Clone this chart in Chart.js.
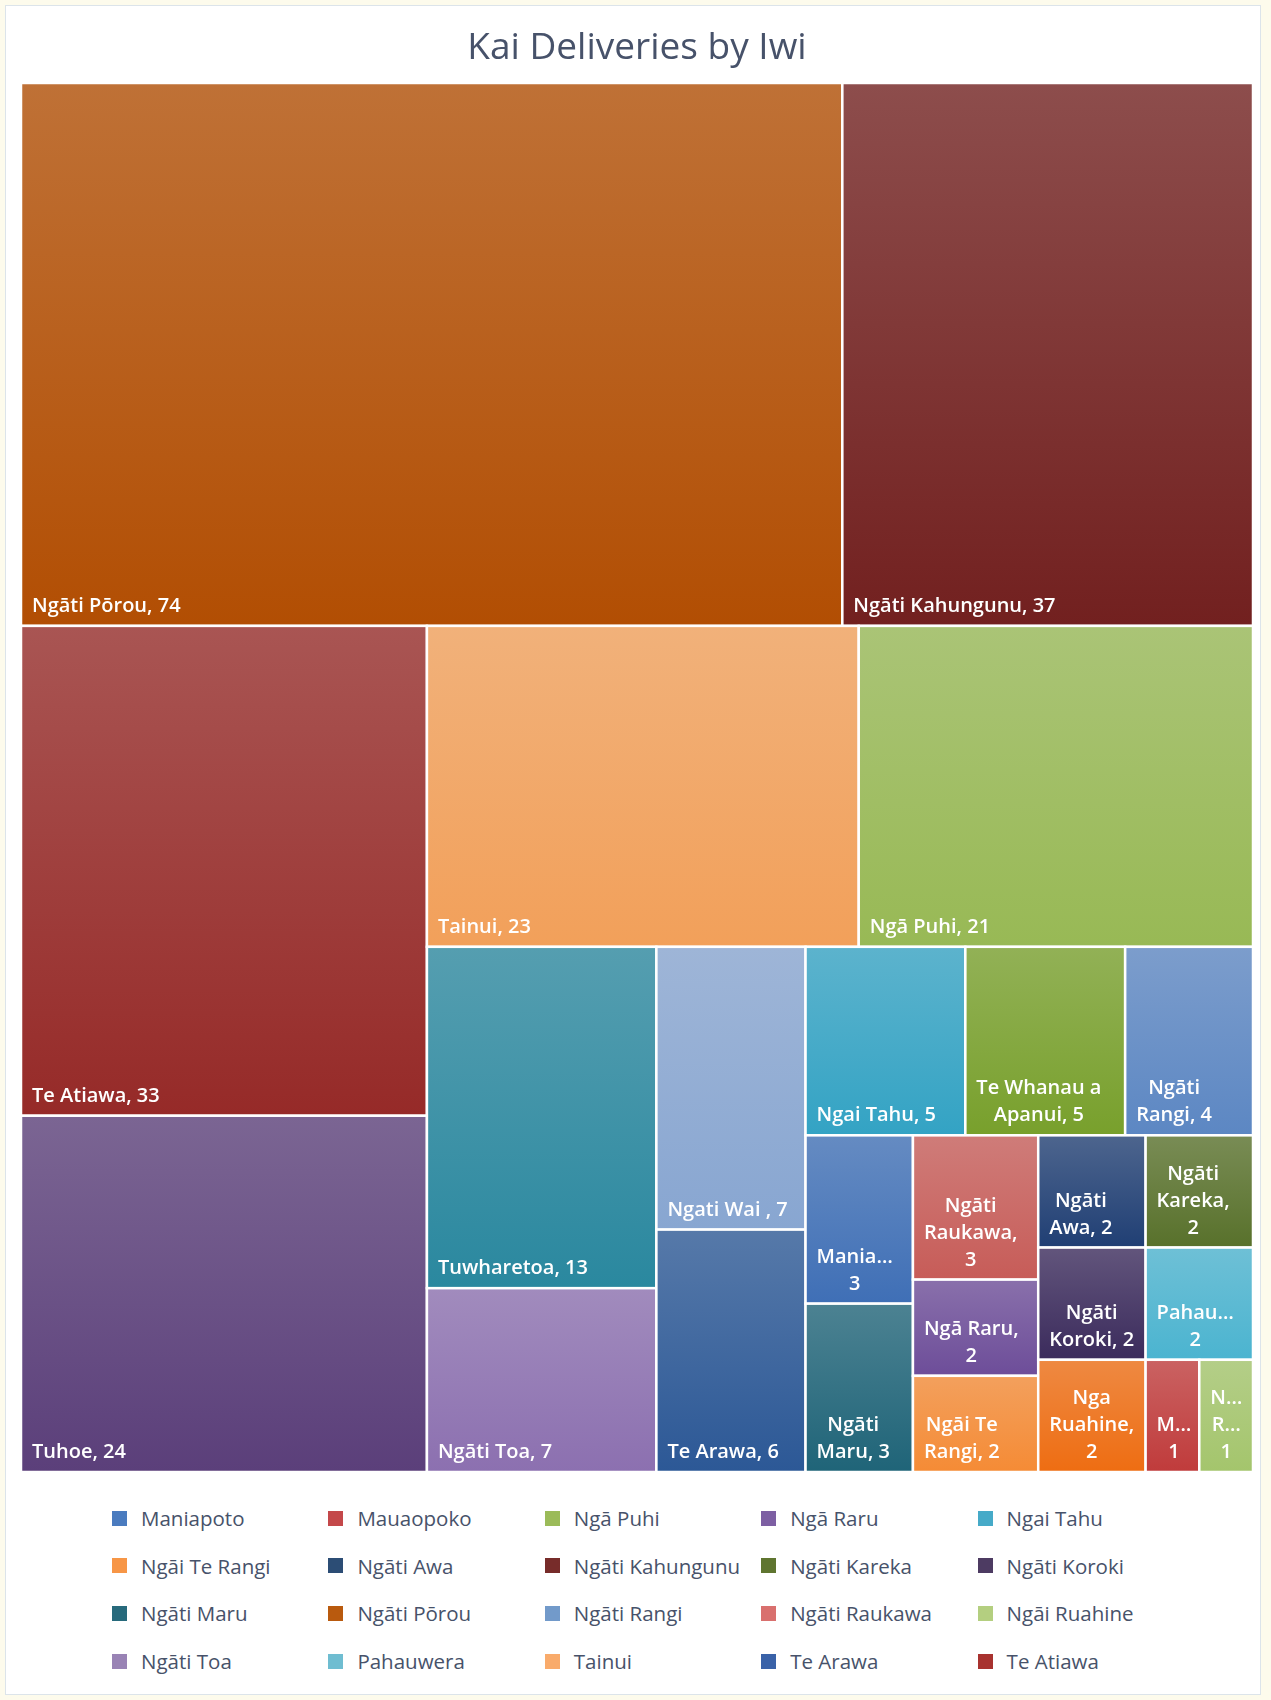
<!DOCTYPE html>
<html>
<head>
<meta charset="utf-8">
<title>Kai Deliveries by Iwi</title>
<script src="https://cdn.jsdelivr.net/npm/chart.js@4.4.0/dist/chart.umd.min.js"></script>
<style>
  html, body { margin: 0; padding: 0; background: #fdfbec; }
  body { width: 1271px; height: 1700px; position: relative; font-family: 'Open Sans', sans-serif; }
  #frame { position: absolute; left: 5px; top: 5px; width: 1254px; height: 1688px; background: #fff; border: 1px solid #dce4ea; }
  #chartBox { position: absolute; left: 0; top: 0; width: 1254px; height: 1480px; }
  .item { position: absolute; display: flex; align-items: center; height: 26px; font-size: 20.5px; color: #47526a; white-space: nowrap; }
  .sw { width: 15px; height: 15px; margin-right: 14px; flex: none; }
</style>
</head>
<body>
<div id="frame">
  <div id="chartBox"><canvas id="treemap"></canvas></div>
  <div id="legend"></div>
</div>
<script>
// iwi and delivery counts, largest first (ties in sheet order)
const iwi = ['Ngāti Pōrou', 'Ngāti Kahungunu', 'Te Atiawa', 'Tuhoe', 'Tainui', 'Ngā Puhi',
  'Tuwharetoa', 'Ngāti Toa', 'Ngati Wai ', 'Te Arawa', 'Ngai Tahu', 'Te Whanau a Apanui',
  'Ngāti Rangi', 'Maniapoto', 'Ngāti Maru', 'Ngāti Raukawa', 'Ngā Raru', 'Ngāi Te Rangi',
  'Ngāti Awa', 'Ngāti Kareka', 'Ngāti Koroki', 'Pahauwera', 'Nga Ruahine', 'Mauaopoko', 'Ngāi Ruahine'];
const deliveries = [74, 37, 33, 24, 23, 21, 13, 7, 7, 6, 5, 5, 4, 3, 3, 3, 2, 2, 2, 2, 2, 2, 2, 1, 1];
const cellColours = ['#b24e03', '#72201f', '#962a28', '#5b3f7a', '#f2a05a', '#98b955',
  '#2a889f', '#8c70b0', '#88a6d1', '#2c5896', '#33a3c4', '#78a02c',
  '#5c87c3', '#3f6fb6', '#1f6478', '#c75c58', '#6d4d99', '#f58b35',
  '#203f74', '#58712b', '#3b2b5c', '#4bb4d0', '#ee6d12', '#c03b3b', '#a4c56c'];
// legend entries shown on the chart
const legendNames = ['Maniapoto', 'Mauaopoko', 'Ngā Puhi', 'Ngā Raru', 'Ngai Tahu',
  'Ngāi Te Rangi', 'Ngāti Awa', 'Ngāti Kahungunu', 'Ngāti Kareka', 'Ngāti Koroki',
  'Ngāti Maru', 'Ngāti Pōrou', 'Ngāti Rangi', 'Ngāti Raukawa', 'Ngāi Ruahine',
  'Ngāti Toa', 'Pahauwera', 'Tainui', 'Te Arawa', 'Te Atiawa'];
const legendColours = ['#4a7bbf', '#c4484a', '#9bbb59', '#7d5fa3', '#46aac8',
  '#f79646', '#2c4d75', '#772c2a', '#5f7530', '#4d3b62',
  '#276a7c', '#b95a0e', '#729aca', '#d9706e', '#b4cf80',
  '#9983b5', '#6fbdd1', '#f9ab6b', '#3a62a8', '#a8322f'];

function mix(hex, to, t) {
  const a = [1, 3, 5].map(i => parseInt(hex.slice(i, i + 2), 16));
  return `rgb(${a.map((v, i) => Math.round(v * (1 - t) + to[i] * t)).join(',')})`;
}

// squarified layout; wide cells are penalised a little more than tall ones
function cellScore(w, h) { return Math.max(1.5 * w / h, h / w); }

function layoutCells(items, rect) {
  const out = [];
  let rest = items.slice();
  let r = Object.assign({}, rect);
  const place = (row, total) => {
    const sum = row.reduce((s, d) => s + d.value, 0);
    const cells = [];
    if (r.h < r.w) {
      const cw = r.w * sum / total;
      let cy = r.y;
      row.forEach(d => { const ch = r.h * d.value / sum; cells.push({ d, x: r.x, y: cy, w: cw, h: ch }); cy += ch; });
    } else {
      const rh = r.h * sum / total;
      let cx = r.x;
      row.forEach(d => { const cw = r.w * d.value / sum; cells.push({ d, x: cx, y: r.y, w: cw, h: rh }); cx += cw; });
    }
    return cells;
  };
  const worst = cells => Math.max(...cells.map(c => cellScore(c.w, c.h)));
  while (rest.length) {
    const total = rest.reduce((s, d) => s + d.value, 0);
    let n = 1, best = worst(place(rest.slice(0, 1), total));
    for (let i = 2; i <= rest.length; i++) {
      const s = worst(place(rest.slice(0, i), total));
      if (s > best) break;
      best = s; n = i;
    }
    const row = rest.slice(0, n);
    const sum = row.reduce((s, d) => s + d.value, 0);
    out.push(...place(row, total));
    if (r.h < r.w) { const cw = r.w * sum / total; r.x += cw; r.w -= cw; }
    else { const rh = r.h * sum / total; r.y += rh; r.h -= rh; }
    rest = rest.slice(n);
  }
  return out;
}

function wrapLabel(ctx, text, maxW) {
  const fit = w => {
    if (ctx.measureText(w).width <= maxW) return w;
    let s = w;
    while (s.length > 1 && ctx.measureText(s + '…').width > maxW) s = s.slice(0, -1);
    return s.replace(/[,\s]+$/, '') + '…';
  };
  const lines = [];
  let cur = '';
  text.split(' ').filter(w => w.length).forEach(w => {
    const trial = cur ? cur + ' ' + w : w;
    if (ctx.measureText(trial).width <= maxW) cur = trial;
    else { if (cur) lines.push(cur); cur = fit(w); }
  });
  if (cur) lines.push(cur);
  return lines;
}

const treemapPlugin = {
  id: 'treemap',
  afterDatasetsDraw(chart) {
    const { ctx, chartArea, scales: { x, y } } = chart;
    const aspect = chartArea.width / chartArea.height;
    const items = iwi.map((name, i) => ({ name, value: deliveries[i], colour: cellColours[i] }))
      .sort((a, b) => b.value - a.value);
    const cells = layoutCells(items, { x: 0, y: 0, w: aspect, h: 1 });
    ctx.save();
    cells.forEach(c => {
      const left = x.getPixelForValue(c.x / aspect);
      const right = x.getPixelForValue((c.x + c.w) / aspect);
      const top = y.getPixelForValue(c.y);
      const bottom = y.getPixelForValue(c.y + c.h);
      const g = ctx.createLinearGradient(0, top, 0, bottom);
      g.addColorStop(0, mix(c.d.colour, [236, 236, 236], 0.22));
      g.addColorStop(1, c.d.colour);
      ctx.fillStyle = g;
      ctx.fillRect(left, top, right - left, bottom - top);
      ctx.strokeStyle = '#ffffff';
      ctx.lineWidth = 2.5;
      ctx.strokeRect(left, top, right - left, bottom - top);

      ctx.font = "600 20px 'Open Sans', sans-serif";
      ctx.fillStyle = '#ffffff';
      ctx.textAlign = 'center';
      ctx.textBaseline = 'alphabetic';
      const lines = wrapLabel(ctx, `${c.d.name}, ${c.d.value}`, right - left - 22);
      const blockW = Math.max(...lines.map(l => ctx.measureText(l).width));
      const cx = left + 11 + blockW / 2;
      lines.forEach((l, i) => {
        ctx.fillText(l, cx, bottom - 14 - (lines.length - 1 - i) * 27);
      });
    });
    ctx.restore();
  }
};

Chart.defaults.font.family = "'Open Sans', sans-serif";

new Chart(document.getElementById('treemap'), {
  type: 'scatter',
  data: { datasets: [{ data: [] }] },
  options: {
    responsive: true,
    maintainAspectRatio: false,
    animation: false,
    layout: { padding: { left: 15, right: 7, top: 0, bottom: 14 } },
    scales: {
      x: { type: 'linear', min: 0, max: 1, display: false },
      y: { type: 'linear', min: 0, max: 1, reverse: true, display: false }
    },
    plugins: {
      legend: { display: false },
      tooltip: { enabled: false },
      title: {
        display: true,
        text: 'Kai Deliveries by Iwi',
        color: '#47526a',
        font: { size: 37, weight: 'normal' },
        padding: { top: 20, bottom: 12.6 }
      }
    }
  },
  plugins: [treemapPlugin]
});

// legend: 5 columns, 4 rows
const legendBox = document.getElementById('legend');
legendNames.forEach((name, i) => {
  const col = i % 5, row = Math.floor(i / 5);
  const el = document.createElement('div');
  el.className = 'item';
  el.style.left = (106 + col * 216.4) + 'px';
  el.style.top = (1512 - 13 + row * 47.7) + 'px';
  el.innerHTML = `<span class="sw" style="background:${legendColours[i]}"></span><span>${name}</span>`;
  legendBox.appendChild(el);
});
</script>
</body>
</html>
